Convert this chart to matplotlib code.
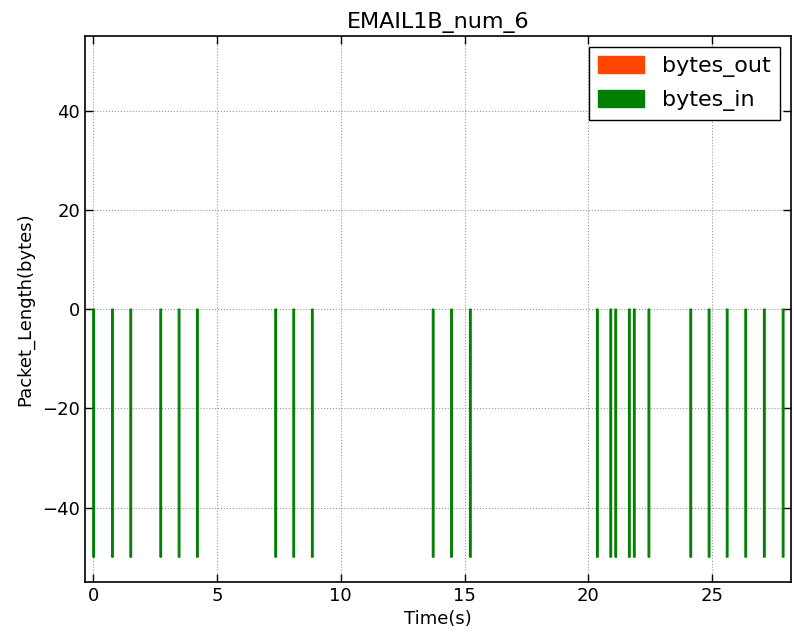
import matplotlib
matplotlib.use("Agg")
import matplotlib.pyplot as plt
import matplotlib.patches as mpatches

# Packet arrival times (s) and lengths (bytes); incoming packets drawn as negative
times_in = [0.02, 0.78, 1.52, 2.73, 3.47, 4.21, 7.37, 8.10, 8.85,
            13.73, 14.47, 15.23, 20.36, 20.90, 21.10, 21.65, 21.85, 22.44,
            24.13, 24.87, 25.60, 26.35, 27.10, 27.86]
bytes_in = [-50] * len(times_in)
times_out = []
bytes_out = []

title = "EMAIL1B_num_6"
xlabel = "Time(s)"
ylabel = "Packet_Length(bytes)"
xticks = [0, 5, 10, 15, 20, 25]
yticks = [-40, -20, 0, 20, 40]

color_out = "#ff4500"
color_in = "#008000"

plt.rcParams["font.family"] = "DejaVu Sans"
fig = plt.figure(figsize=(7.94, 6.34), dpi=100)
ax = fig.add_axes([0.107, 0.082, 0.889, 0.861])

ax.bar(times_out, bytes_out, width=0.1, color=color_out, edgecolor=color_out,
       linewidth=0.8, snap=False)
ax.bar(times_in, bytes_in, width=0.07, color=color_in, edgecolor=color_in,
       linewidth=0.8, snap=False)

ax.set_xlim(-0.33, 28.17)
ax.set_ylim(-55, 55)
ax.set_xticks(xticks)
ax.set_yticks(yticks)
ax.tick_params(direction="in", length=6, width=1, top=True, right=True, labelsize=13)
ax.grid(True, color="#999999", linestyle=":", linewidth=0.8)
ax.set_axisbelow(True)
for s in ax.spines.values():
    s.set_linewidth(1.2)

ax.set_title(title, fontsize=16, pad=6)
ax.set_xlabel(xlabel, fontsize=13, labelpad=4)
ax.set_ylabel(ylabel, fontsize=13, labelpad=6)

handles = [mpatches.Patch(color=color_out, label="bytes_out"),
           mpatches.Patch(color=color_in, label="bytes_in")]
leg = ax.legend(handles=handles, loc="upper right", fontsize=16, fancybox=False,
                framealpha=1, edgecolor="black", borderaxespad=0.5,
                borderpad=0.4, labelspacing=0.55,
                handlelength=2.1, handleheight=0.8, handletextpad=0.8)
leg.get_frame().set_linewidth(1.0)

fig.savefig("out.png", dpi=100, facecolor="white")
